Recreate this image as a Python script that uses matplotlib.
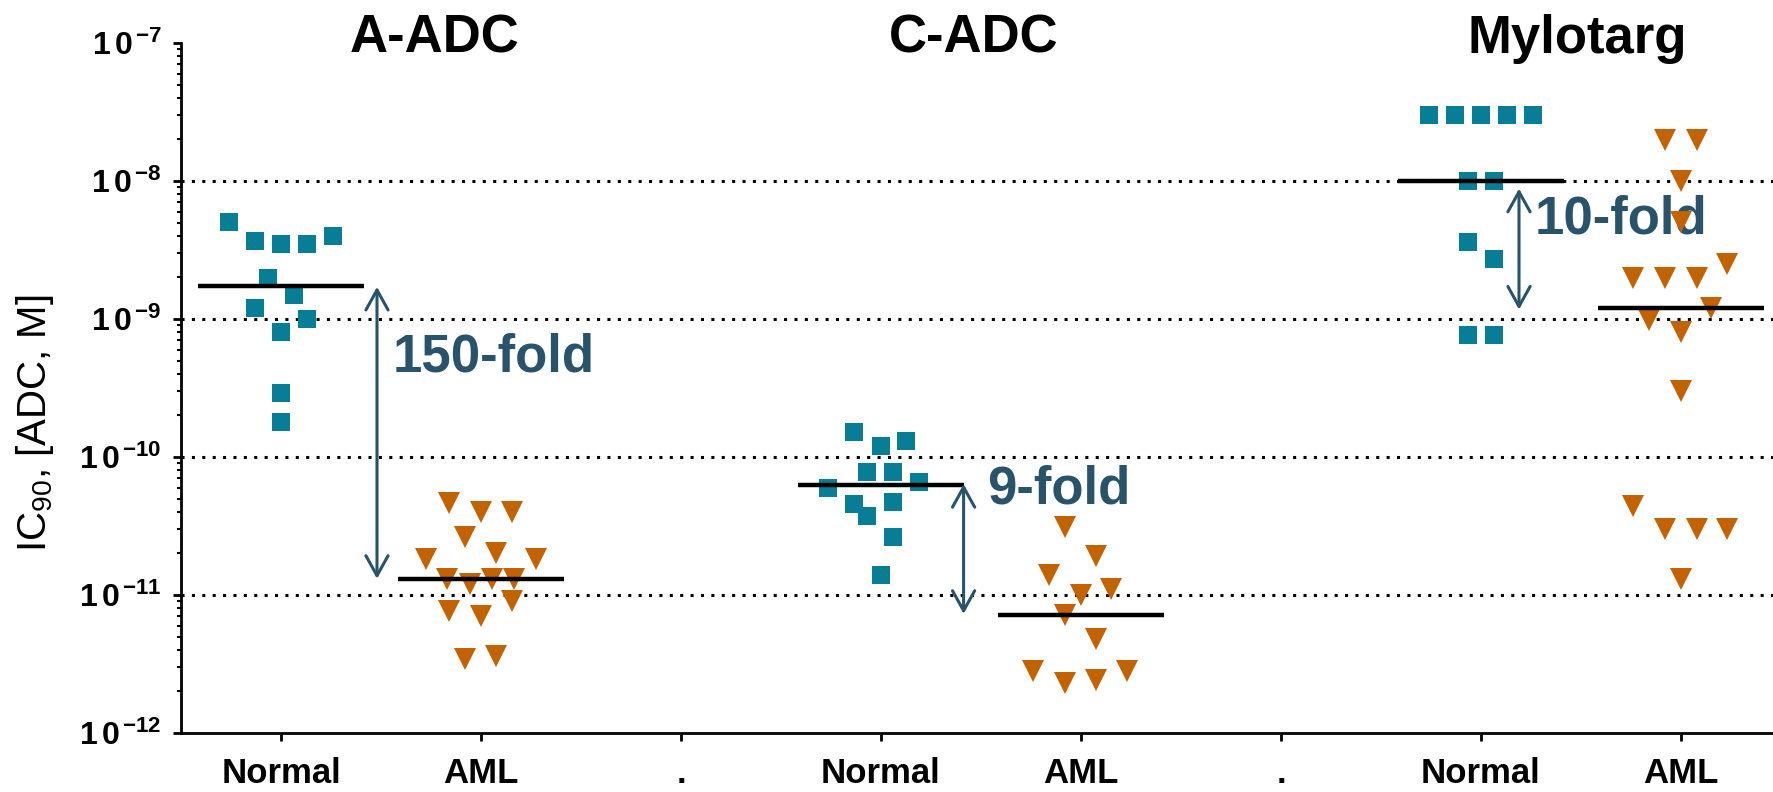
import matplotlib
matplotlib.use("Agg")
import matplotlib.pyplot as plt
import numpy as np
from matplotlib.ticker import FixedLocator, LogLocator, NullFormatter, FuncFormatter

# ---------------- data ----------------
tick_labels = ["Normal", "AML", ".", "Normal", "AML", ".", "Normal", "AML"]
drug_titles = ["A-ADC", "C-ADC", "Mylotarg"]
fold_labels = ["150-fold", "9-fold", "10-fold"]

a_adc_normal = [5.05e-9, 3.67e-9, 3.49e-9, 3.49e-9, 3.99e-9, 1.98e-9, 1.49e-9,
                1.20e-9, 1.00e-9, 8.05e-10, 2.91e-10, 1.80e-10]
a_adc_normal_jitter = [-0.26, -0.13, 0.0, 0.13, 0.26, -0.065, 0.065, -0.13, 0.13, 0.0, 0.0, 0.0]

a_adc_aml = [4.64e-11, 3.99e-11, 3.99e-11, 2.63e-11, 1.82e-11, 2.02e-11, 1.82e-11, 1.31e-11,
             1.20e-11, 1.31e-11, 1.31e-11, 9.05e-12, 7.66e-12, 7.05e-12, 3.44e-12, 3.61e-12]
a_adc_aml_jitter = [-0.16, 0.0, 0.155, -0.08, -0.275, 0.077, 0.273, -0.168, -0.057, 0.053,
                    0.163, 0.155, -0.16, 0.0, -0.08, 0.077]

c_adc_normal = [1.52e-10, 1.20e-10, 1.31e-10, 7.78e-11, 7.78e-11, 6.59e-11, 5.96e-11,
                4.56e-11, 4.72e-11, 3.73e-11, 2.63e-11, 1.40e-11]
c_adc_normal_jitter = [-0.133, 0.0, 0.126, -0.068, 0.062, 0.19, -0.265, -0.133, 0.062, -0.068, 0.062, 0.0]

c_adc_aml = [3.11e-11, 1.91e-11, 1.40e-11, 1.10e-11, 1.00e-11, 7.13e-12, 4.82e-12,
             2.81e-12, 2.31e-12, 2.41e-12, 2.81e-12]
c_adc_aml_jitter = [-0.08, 0.075, -0.16, 0.15, 0.0, -0.08, 0.075, -0.24, -0.08, 0.075, 0.23]

mylotarg_normal = [3.0e-8, 3.0e-8, 3.0e-8, 3.0e-8, 3.0e-8, 1.0e-8, 1.0e-8,
                   3.61e-9, 2.72e-9, 7.66e-10, 7.66e-10]
mylotarg_normal_jitter = [-0.26, -0.13, 0.0, 0.13, 0.26, -0.065, 0.065, -0.065, 0.065, -0.065, 0.065]

mylotarg_aml = [1.98e-8, 1.98e-8, 1.0e-8, 5.05e-9, 2.5e-9, 1.98e-9, 1.98e-9, 1.98e-9, 1.2e-9,
                9.84e-10, 8.05e-10, 3.01e-10, 4.41e-11, 3.01e-11, 3.01e-11, 3.01e-11, 1.31e-11]
mylotarg_aml_jitter = [-0.08, 0.08, 0.0, 0.0, 0.23, -0.24, -0.08, 0.08, 0.15, -0.16, 0.0, 0.0,
                       -0.24, -0.08, 0.08, 0.23, 0.0]

arrow_top = [1.71e-9, 6.37e-11, 8.8e-9]
arrow_bottom = [1.31e-11, 7.3e-12, 1.17e-9]

# ---------------- style / layout ----------------
plt.rcParams['font.family'] = ['Liberation Sans', 'DejaVu Sans']
plt.rcParams['mathtext.fontset'] = 'custom'
plt.rcParams['mathtext.rm'] = 'Liberation Sans'
plt.rcParams['mathtext.bf'] = 'Liberation Sans:bold'
plt.rcParams['mathtext.it'] = 'Liberation Sans:italic'

TEAL = '#077e96'
ORANGE = '#c26200'
NAVY = '#28536a'

W, H = 1773, 792
fig = plt.figure(figsize=(W / 100, H / 100), dpi=100)
ax = fig.add_axes([181 / W, 1 - 733 / H, (W - 181) / W, 690 / H])
ax.set_yscale('log')
ax.set_ylim(1e-12, 1e-7)
ax.set_xlim(-0.5, 7.46)

groups = [
    (0, a_adc_normal, a_adc_normal_jitter, 's', TEAL),
    (1, a_adc_aml, a_adc_aml_jitter, 'v', ORANGE),
    (3, c_adc_normal, c_adc_normal_jitter, 's', TEAL),
    (4, c_adc_aml, c_adc_aml_jitter, 'v', ORANGE),
    (6, mylotarg_normal, mylotarg_normal_jitter, 's', TEAL),
    (7, mylotarg_aml, mylotarg_aml_jitter, 'v', ORANGE),
]

# dotted gridlines
for lv in [1e-8, 1e-9, 1e-10, 1e-11]:
    ax.axhline(lv, color='black', lw=2.2, linestyle=(0, (1, 2.4)), zorder=1)

for pos, vals, jit, mk, col in groups:
    xs = pos + np.array(jit)
    ms = 13 if mk == 's' else 15.5
    ax.plot(xs, vals, linestyle='none', marker=mk, ms=ms, color=col,
            markeredgewidth=0, zorder=3, clip_on=False)
    med = np.median(vals)
    ax.plot([pos - 0.417, pos + 0.417], [med, med], color='black', lw=3.2,
            solid_capstyle='butt', zorder=4)

# fold-change arrows
arrow_x = [0.48, 3.413, 6.19]
for xa, top, bot in zip(arrow_x, arrow_top, arrow_bottom):
    ax.annotate('', xy=(xa, bot), xytext=(xa, top),
                arrowprops=dict(arrowstyle='<->,head_length=0.72,head_width=0.4',
                                color=NAVY, lw=2.2, shrinkA=0, shrinkB=0,
                                mutation_scale=20), zorder=4)

# fold text
fold_pos = [(0.56, 4.15e-10), (3.53, 4.6e-11), (6.27, 4.15e-9)]
for (fx, fy), lab in zip(fold_pos, fold_labels):
    ax.text(fx, fy, lab, ha='left', va='baseline', fontsize=38, fontweight='bold',
            color=NAVY, zorder=2)

# titles
title_x = [0.77, 3.464, 6.48]
for tx, t in zip(title_x, drug_titles):
    ax.text(tx, 8.47e-8, t, ha='center', va='baseline', fontsize=38, fontweight='bold',
            color='black', clip_on=False)

# axes styling
for s in ['top', 'right']:
    ax.spines[s].set_visible(False)
for s in ['left', 'bottom']:
    ax.spines[s].set_linewidth(2)

ax.set_xticks(range(len(tick_labels)))
ax.set_xticklabels(tick_labels, fontsize=25, fontweight='bold')
ax.tick_params(axis='x', length=6, width=2, pad=11, direction='out')

ax.yaxis.set_major_locator(FixedLocator([1e-12, 1e-11, 1e-10, 1e-9, 1e-8, 1e-7]))
ax.yaxis.set_major_formatter(FuncFormatter(
    lambda v, p: r'$\mathbf{1\,0}^{\,\mathbf{%d}}$' % int(round(np.log10(v)))))
ax.yaxis.set_minor_locator(LogLocator(base=10, subs=np.arange(2, 10)))
ax.yaxis.set_minor_formatter(NullFormatter())
ax.tick_params(axis='y', which='major', length=6, width=2, pad=8, labelsize=23)
ax.tick_params(axis='y', which='minor', length=3, width=1.5)

fig.text(35 / W, 1 - 423 / H, r'IC$_{\mathrm{90}}$, [ADC, M]', rotation=90,
         ha='center', va='center', fontsize=29)

fig.savefig('out.png', dpi=100)
